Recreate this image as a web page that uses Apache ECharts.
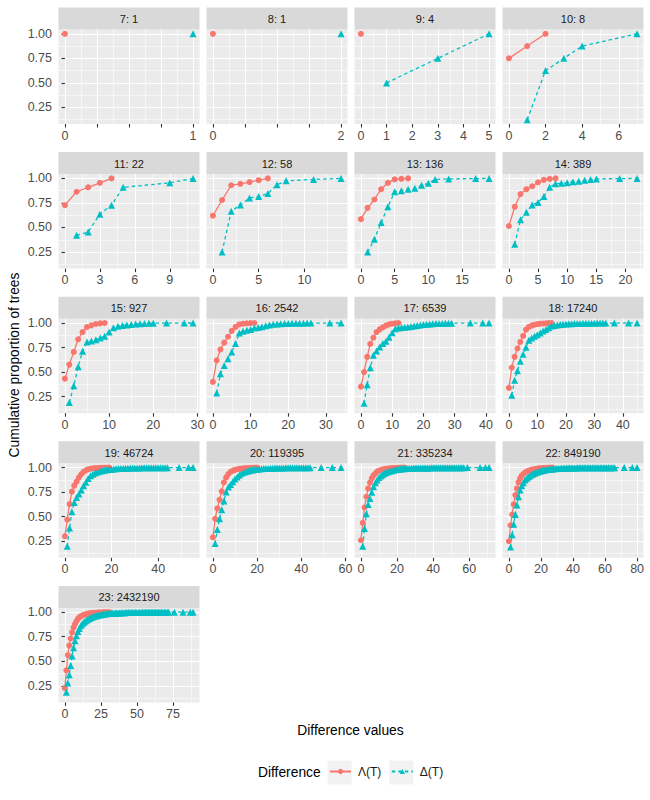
<!DOCTYPE html>
<html>
<head>
<meta charset="utf-8">
<script src="https://cdn.jsdelivr.net/npm/echarts@6/dist/echarts.min.js"></script>
<style>
html, body { margin: 0; padding: 0; background: #fff; }
#chart { width: 650px; height: 800px; }
</style>
</head>
<body>
<div id="chart"></div>
<script>
// facet titles: tips: number of trees
var panelNames = ['7: 1', '8: 1', '9: 4', '10: 8', '11: 22', '12: 58', '13: 136', '14: 389',
  '15: 927', '16: 2542', '17: 6539', '18: 17240', '19: 46724', '20: 119395', '21: 335234',
  '22: 849190', '23: 2432190'];

// [difference value, cumulative proportion]
var lam7 = [[0, 1]];
var del7 = [[1, 1]];
var lam8 = [[0, 1]];
var del8 = [[2, 1]];
var lam9 = [[0, 1]];
var del9 = [[1, 0.5], [3, 0.75], [5, 1]];
var lam10 = [[0, 0.75], [1, 0.875], [2, 1]];
var del10 = [[1, 0.125], [2, 0.625], [3, 0.75], [4, 0.875], [7, 1]];
var lam11 = [[0, 0.727], [1, 0.864], [2, 0.909], [3, 0.955], [4, 1]];
var del11 = [[1, 0.42], [2, 0.455], [3, 0.636], [4, 0.727], [5, 0.909], [9, 0.955], [11, 1]];
var lam12 = [[0, 0.62], [1, 0.78], [2, 0.93], [3, 0.945], [4, 0.963], [5, 0.982], [6, 1]];
var del12 = [[1, 0.25], [2, 0.665], [3, 0.73], [4, 0.8], [5, 0.815], [6, 0.845], [7, 0.935], [8, 0.975], [11, 0.99], [14, 1]];
var lam13 = [[0, 0.585], [1, 0.7], [2, 0.785], [3, 0.89], [4, 0.955], [5, 0.99], [6, 0.996], [7, 1]];
var del13 = [[1, 0.25], [2, 0.38], [3, 0.55], [4, 0.71], [5, 0.865], [6, 0.875], [7, 0.89], [8, 0.9], [9, 0.93],
  [10, 0.95], [11, 0.99], [13, 0.995], [17, 0.998], [19, 1]];
var lam14 = [[0, 0.515], [1, 0.71], [2, 0.84], [3, 0.89], [4, 0.92], [5, 0.96], [6, 0.985], [7, 0.995], [8, 1]];
var del14 = [[1, 0.33], [2, 0.58], [3, 0.655], [4, 0.73], [5, 0.755], [6, 0.815], [7, 0.91], [8, 0.945], [9, 0.95],
  [10, 0.955], [11, 0.965], [12, 0.97], [13, 0.98], [14, 0.99], [15, 0.995], [19, 0.998], [22, 1]];
var lam15 = [[0, 0.433], [1, 0.576], [2, 0.705], [3, 0.834], [4, 0.908], [5, 0.959], [6, 0.976], [7, 0.99], [8, 0.996], [9, 1]];
var del15 = [[1, 0.19], [2, 0.362], [3, 0.555], [4, 0.712], [5, 0.807], [6, 0.817], [7, 0.83], [8, 0.847], [9, 0.864],
  [10, 0.908], [11, 0.952], [12, 0.966], [13, 0.975], [14, 0.98], [15, 0.985], [16, 0.99], [17, 0.992], [18, 0.995],
  [19, 0.997], [20, 0.998], [23, 0.999], [27, 0.9995], [29, 1]];
var lam16 = [[0, 0.4], [1, 0.62], [2, 0.73], [3, 0.8], [4, 0.86], [5, 0.92], [6, 0.96], [7, 0.985], [8, 0.993],
  [9, 0.997], [10, 0.999], [11, 1]];
var del16 = [[1, 0.286], [2, 0.482], [3, 0.566], [4, 0.637], [5, 0.705], [6, 0.79], [7, 0.898], [8, 0.915], [9, 0.925],
  [10, 0.935], [11, 0.949], [12, 0.953], [13, 0.962], [14, 0.972], [15, 0.98], [16, 0.987], [17, 0.99], [18, 0.993],
  [19, 0.995], [20, 0.996], [21, 0.997], [22, 0.997], [23, 0.998], [24, 0.998], [25, 0.999], [26, 0.999], [31, 0.9995], [34, 1]];
var lam17 = [[0, 0.352], [1, 0.5], [2, 0.655], [3, 0.787], [4, 0.85], [5, 0.908], [6, 0.935], [7, 0.956], [8, 0.973],
  [9, 0.986], [10, 0.993], [11, 0.997], [12, 1]];
var del17 = [[1, 0.182], [2, 0.372], [3, 0.545], [4, 0.671], [5, 0.715], [6, 0.756], [7, 0.79], [8, 0.813], [9, 0.854],
  [10, 0.9], [11, 0.942], [12, 0.949], [13, 0.953], [14, 0.956], [15, 0.96], [16, 0.965], [17, 0.97], [18, 0.975],
  [19, 0.98], [20, 0.984], [21, 0.987], [22, 0.99], [23, 0.992], [24, 0.994], [25, 0.995], [26, 0.996], [27, 0.997],
  [28, 0.998], [29, 0.998], [35, 0.999], [39, 0.9995], [41, 1]];
var lam18 = [[0, 0.339], [1, 0.546], [2, 0.655], [3, 0.74], [4, 0.807], [5, 0.868], [6, 0.932], [7, 0.96], [8, 0.973],
  [9, 0.983], [10, 0.989], [11, 0.993], [12, 0.995], [13, 0.997], [14, 0.999], [15, 1]];
var del18 = [[1, 0.264], [2, 0.416], [3, 0.514], [4, 0.61], [5, 0.681], [6, 0.752], [7, 0.823], [8, 0.847], [9, 0.864],
  [10, 0.881], [11, 0.898], [12, 0.918], [13, 0.935], [14, 0.952], [15, 0.969], [16, 0.975], [17, 0.98], [18, 0.984],
  [19, 0.987], [20, 0.99], [21, 0.992], [22, 0.993], [23, 0.994], [24, 0.995], [25, 0.996], [26, 0.997], [27, 0.997],
  [28, 0.998], [29, 0.998], [30, 0.998], [31, 0.999], [32, 0.999], [33, 0.999], [34, 0.999], [37, 0.9995], [42, 0.9998], [45, 1]];
var lam19 = [[0, 0.3], [1, 0.47], [2, 0.628], [3, 0.755], [4, 0.816], [5, 0.857], [6, 0.898], [7, 0.932], [8, 0.956],
  [9, 0.973], [10, 0.982], [11, 0.988], [12, 0.992], [13, 0.995], [14, 0.996], [15, 0.997], [16, 0.998], [17, 0.999],
  [18, 0.999], [19, 1]];
var del19 = [[1, 0.198], [2, 0.386], [3, 0.55], [4, 0.645], [5, 0.696], [6, 0.73], [7, 0.771], [8, 0.816], [9, 0.85],
  [10, 0.89], [11, 0.918], [12, 0.932], [13, 0.945], [14, 0.956], [15, 0.963], [16, 0.968], [17, 0.973], [18, 0.977],
  [19, 0.98], [20, 0.983], [21, 0.986], [22, 0.988], [23, 0.99], [24, 0.991], [25, 0.992], [26, 0.993], [27, 0.994],
  [28, 0.995], [29, 0.996], [30, 0.996], [31, 0.997], [32, 0.997], [33, 0.998], [34, 0.998], [35, 0.998], [36, 0.999],
  [37, 0.999], [38, 0.999], [39, 0.999], [40, 0.999], [41, 0.9995], [42, 0.9995], [43, 0.9995], [44, 0.9995],
  [49, 0.9998], [53, 0.9999], [55, 1]];
var lam20 = [[0, 0.29], [1, 0.478], [2, 0.584], [3, 0.672], [4, 0.758], [5, 0.85], [6, 0.9], [7, 0.935], [8, 0.956],
  [9, 0.969], [10, 0.977], [11, 0.983], [12, 0.987], [13, 0.99], [14, 0.993], [15, 0.995], [16, 0.996], [17, 0.997],
  [18, 0.998], [19, 0.999], [20, 1]];
var del20 = [[1, 0.226], [2, 0.369], [3, 0.478], [4, 0.57], [5, 0.659], [6, 0.751], [7, 0.802], [8, 0.829], [9, 0.857],
  [10, 0.884], [11, 0.904], [12, 0.925], [13, 0.942], [14, 0.952], [15, 0.96], [16, 0.966], [17, 0.972], [18, 0.976],
  [19, 0.98], [20, 0.983], [21, 0.986], [22, 0.988], [23, 0.99], [24, 0.991], [25, 0.992], [26, 0.993], [27, 0.994],
  [28, 0.995], [29, 0.996], [30, 0.996], [31, 0.997], [32, 0.997], [33, 0.998], [34, 0.998], [35, 0.998], [36, 0.999],
  [37, 0.999], [38, 0.999], [39, 0.999], [40, 0.999], [41, 0.9995], [42, 0.9995], [43, 0.9995], [44, 0.9995],
  [49, 0.9998], [54, 0.9999], [58, 1]];
var lam21 = [[0, 0.26], [1, 0.437], [2, 0.594], [3, 0.703], [4, 0.788], [5, 0.846], [6, 0.89], [7, 0.92], [8, 0.94],
  [9, 0.959], [10, 0.968], [11, 0.975], [12, 0.98], [13, 0.985], [14, 0.988], [15, 0.99], [16, 0.992], [17, 0.994],
  [18, 0.995], [19, 0.996], [20, 0.997], [21, 0.998], [22, 0.999], [23, 0.999], [24, 1]];
var del21 = [[1, 0.198], [2, 0.379], [3, 0.529], [4, 0.625], [5, 0.686], [6, 0.748], [7, 0.806], [8, 0.846], [9, 0.874],
  [10, 0.898], [11, 0.915], [12, 0.928], [13, 0.94], [14, 0.95], [15, 0.957], [16, 0.963], [17, 0.968], [18, 0.973],
  [19, 0.977], [20, 0.98], [21, 0.983], [22, 0.985], [23, 0.987], [24, 0.989], [25, 0.99], [26, 0.991], [27, 0.992],
  [28, 0.993], [29, 0.994], [30, 0.995], [31, 0.995], [32, 0.996], [33, 0.996], [34, 0.996], [35, 0.997], [36, 0.997],
  [37, 0.997], [38, 0.997], [39, 0.998], [40, 0.998], [41, 0.998], [42, 0.998], [43, 0.998], [44, 0.999], [45, 0.999],
  [46, 0.999], [47, 0.999], [48, 0.999], [49, 0.999], [50, 0.999], [51, 0.9995], [52, 0.9995], [53, 0.9995],
  [54, 0.9995], [55, 0.9995], [56, 0.9995], [57, 0.9995], [59, 0.9998], [66, 0.9999], [69, 0.9999], [71, 1]];
var lam22 = [[0, 0.25], [1, 0.413], [2, 0.522], [3, 0.625], [4, 0.72], [5, 0.788], [6, 0.85], [7, 0.89], [8, 0.918],
  [9, 0.935], [10, 0.949], [11, 0.958], [12, 0.966], [13, 0.972], [14, 0.977], [15, 0.981], [16, 0.985], [17, 0.988],
  [18, 0.99], [19, 0.992], [20, 0.994], [21, 0.995], [22, 0.996], [23, 0.997], [24, 0.998], [25, 0.999], [26, 0.999], [27, 1]];
var del22 = [[1, 0.19], [2, 0.317], [3, 0.423], [4, 0.522], [5, 0.618], [6, 0.703], [7, 0.771], [8, 0.816], [9, 0.846],
  [10, 0.874], [11, 0.89], [12, 0.903], [13, 0.915], [14, 0.926], [15, 0.935], [16, 0.943], [17, 0.95], [18, 0.956],
  [19, 0.961], [20, 0.966], [21, 0.97], [22, 0.974], [23, 0.977], [24, 0.98], [25, 0.982], [26, 0.984], [27, 0.986],
  [28, 0.988], [29, 0.989], [30, 0.99], [31, 0.991], [32, 0.992], [33, 0.993], [34, 0.994], [35, 0.994], [36, 0.995],
  [37, 0.995], [38, 0.996], [39, 0.996], [40, 0.997], [41, 0.997], [42, 0.997], [43, 0.998], [44, 0.998], [45, 0.998],
  [46, 0.998], [47, 0.999], [48, 0.999], [49, 0.999], [50, 0.999], [51, 0.999], [52, 0.999], [53, 0.999], [54, 0.999],
  [55, 0.9995], [56, 0.9995], [57, 0.9995], [58, 0.9995], [59, 0.9995], [60, 0.9995], [61, 0.9995], [62, 0.9995],
  [63, 0.9995], [64, 0.9995], [65, 0.9995], [66, 0.9995], [72, 0.9998], [77, 0.9999], [80, 1]];
var lam23 = [[0, 0.226], [1, 0.408], [2, 0.563], [3, 0.66], [4, 0.732], [5, 0.794], [6, 0.845], [7, 0.88], [8, 0.907],
  [9, 0.931], [10, 0.948], [11, 0.958], [12, 0.966], [13, 0.972], [14, 0.977], [15, 0.981], [16, 0.985], [17, 0.988],
  [18, 0.99], [19, 0.992], [20, 0.993], [21, 0.994], [22, 0.995], [23, 0.996], [24, 0.997], [25, 0.997], [26, 0.998],
  [27, 0.998], [28, 0.999], [29, 0.999], [30, 0.999], [31, 1]];
var del23 = [[1, 0.185], [2, 0.278], [3, 0.364], [4, 0.456], [5, 0.553], [6, 0.639], [7, 0.708], [8, 0.76], [9, 0.804],
  [10, 0.835], [11, 0.862], [12, 0.88], [13, 0.895], [14, 0.907], [15, 0.918], [16, 0.928], [17, 0.936], [18, 0.943],
  [19, 0.949], [20, 0.955], [21, 0.96], [22, 0.964], [23, 0.968], [24, 0.972], [25, 0.975], [26, 0.978], [27, 0.98],
  [28, 0.982], [29, 0.984], [30, 0.986], [31, 0.987], [32, 0.988], [33, 0.989], [34, 0.99], [35, 0.991], [36, 0.992],
  [37, 0.993], [38, 0.993], [39, 0.994], [40, 0.994], [41, 0.995], [42, 0.995], [43, 0.996], [44, 0.996], [45, 0.996],
  [46, 0.997], [47, 0.997], [48, 0.997], [49, 0.998], [50, 0.998], [51, 0.998], [52, 0.998], [53, 0.998], [54, 0.999],
  [55, 0.999], [56, 0.999], [57, 0.999], [58, 0.999], [59, 0.999], [60, 0.999], [61, 0.999], [62, 0.999], [63, 0.9995],
  [64, 0.9995], [65, 0.9995], [66, 0.9995], [67, 0.9995], [68, 0.9995], [69, 0.9995], [70, 0.9995], [71, 0.9995],
  [72, 0.9995], [76, 0.9998], [82, 0.9999], [87, 0.9999], [89, 1]];

var lambdaData = [lam7, lam8, lam9, lam10, lam11, lam12, lam13, lam14, lam15, lam16, lam17, lam18, lam19, lam20, lam21, lam22, lam23];
var deltaData = [del7, del8, del9, del10, del11, del12, del13, del14, del15, del16, del17, del18, del19, del20, del21, del22, del23];

// tick positions per panel, and the ones that carry a label
var xBreaks = [[0, 0.25, 0.5, 0.75, 1], [0, 0.5, 1, 1.5, 2], [0, 1, 2, 3, 4, 5], [0, 2, 4, 6], [0, 3, 6, 9], [0, 5, 10],
  [0, 5, 10, 15], [0, 5, 10, 15, 20], [0, 10, 20, 30], [0, 10, 20, 30], [0, 10, 20, 30, 40], [0, 10, 20, 30, 40],
  [0, 20, 40], [0, 20, 40, 60], [0, 20, 40, 60], [0, 20, 40, 60, 80], [0, 25, 50, 75]];
var xLabelled = [[0, 1], [0, 2], [0, 1, 2, 3, 4, 5], [0, 2, 4, 6], [0, 3, 6, 9], [0, 5, 10],
  [0, 5, 10, 15], [0, 5, 10, 15, 20], [0, 10, 20, 30], [0, 10, 20, 30], [0, 10, 20, 30, 40], [0, 10, 20, 30, 40],
  [0, 20, 40], [0, 20, 40, 60], [0, 20, 40, 60], [0, 20, 40, 60, 80], [0, 25, 50, 75]];
var yBreaks = [0.25, 0.5, 0.75, 1];
var yMinor = [0.125, 0.375, 0.625, 0.875];

var seriesNames = ['\u039b(T)', '\u0394(T)'];
var colors = ['#F8766D', '#00BFC4'];

var fontFam = '"Liberation Sans", Arial, Helvetica, sans-serif';
var colLeft = 58.5, colStep = 148, panelW = 141;
var rowTop = 7.5, rowStep = 144.6, stripH = 22, panelH = 94.5;

// ggplot style 5% expansion of the data range
function expand(lo, hi) {
  var pad = (hi - lo) * 0.05;
  return [lo - pad, hi + pad];
}

function minorOf(b, lo, hi) {
  var step = b[1] - b[0], out = [];
  var cand = [b[0] - step / 2];
  for (var k = 0; k < b.length; k++) cand.push(b[k] + step / 2);
  cand.forEach(function (v) { if (v > lo && v < hi) out.push(v); });
  return out;
}

var allY = [];
lambdaData.concat(deltaData).forEach(function (s) { s.forEach(function (p) { allY.push(p[1]); }); });
var yRange = expand(Math.min.apply(null, allY), Math.max.apply(null, allY));

var grids = [], xAxes = [], yAxes = [], series = [], graphics = [];

panelNames.forEach(function (name, i) {
  var c = i % 4, r = Math.floor(i / 4);
  var left = colLeft + c * colStep;
  var top = rowTop + r * rowStep;

  var xs = [];
  lambdaData[i].concat(deltaData[i]).forEach(function (p) { xs.push(p[0]); });
  var xRange = expand(Math.min.apply(null, xs), Math.max.apply(null, xs));

  grids.push({
    left: left, top: top + stripH, width: panelW, height: panelH,
    show: true, backgroundColor: '#EBEBEB', borderWidth: 0
  });

  // strip
  graphics.push({
    type: 'rect', shape: { x: left, y: top, width: panelW, height: stripH },
    style: { fill: '#D9D9D9' }, silent: true
  });
  graphics.push({
    type: 'text', x: left + panelW / 2, y: top + stripH / 2 + 0.5, silent: true,
    style: { text: name, fill: '#1A1A1A', font: '11px ' + fontFam, align: 'center', verticalAlign: 'middle' }
  });

  xAxes.push({
    type: 'value', gridIndex: i, min: xRange[0], max: xRange[1], position: 'bottom',
    axisLine: { show: false },
    axisTick: { show: true, length: 3.5, customValues: xBreaks[i], lineStyle: { color: '#333333', width: 1.1 } },
    axisLabel: {
      show: true, customValues: xLabelled[i], margin: 5, color: '#4D4D4D', fontSize: 12.5, fontFamily: fontFam,
      formatter: function (v) { return String(v); }
    },
    splitLine: { show: true, lineStyle: { color: '#FFFFFF', width: 1.1 } }
  });
  xAxes.push({
    type: 'value', gridIndex: i, min: xRange[0], max: xRange[1], position: 'bottom',
    axisLine: { show: false },
    axisTick: { show: false, customValues: minorOf(xBreaks[i], xRange[0], xRange[1]) },
    axisLabel: { show: false },
    splitLine: { show: true, lineStyle: { color: '#FFFFFF', width: 0.55 } }
  });

  var firstCol = c === 0;
  yAxes.push({
    type: 'value', gridIndex: i, min: yRange[0], max: yRange[1], position: 'left',
    axisLine: { show: false },
    axisTick: { show: firstCol, length: 3.5, customValues: yBreaks, lineStyle: { color: '#333333', width: 1.1 } },
    axisLabel: {
      show: firstCol, customValues: yBreaks, margin: 6.5, color: '#4D4D4D', fontSize: 12.5, fontFamily: fontFam,
      formatter: function (v) { return v.toFixed(2); }
    },
    splitLine: { show: true, lineStyle: { color: '#FFFFFF', width: 1.1 } }
  });
  yAxes.push({
    type: 'value', gridIndex: i, min: yRange[0], max: yRange[1], position: 'left',
    axisLine: { show: false },
    axisTick: { show: false, customValues: yMinor },
    axisLabel: { show: false },
    splitLine: { show: true, lineStyle: { color: '#FFFFFF', width: 0.55 } }
  });

  series.push({
    type: 'line', name: seriesNames[0], xAxisIndex: 2 * i, yAxisIndex: 2 * i,
    data: lambdaData[i], symbol: 'circle', symbolSize: 6, showSymbol: true,
    itemStyle: { color: colors[0] }, lineStyle: { color: colors[0], width: 1.3 },
    emphasis: { disabled: true }, silent: true
  });
  series.push({
    type: 'line', name: seriesNames[1], xAxisIndex: 2 * i, yAxisIndex: 2 * i,
    data: deltaData[i], symbol: 'triangle', symbolSize: 7, showSymbol: true,
    itemStyle: { color: colors[1] }, lineStyle: { color: colors[1], width: 1.3, type: [3.5, 3] },
    emphasis: { disabled: true }, silent: true
  });
});

// axis titles
graphics.push({
  type: 'text', x: 350.5, y: 730, silent: true,
  style: { text: 'Difference values', fill: '#000000', font: '13.8px ' + fontFam, align: 'center', verticalAlign: 'middle' }
});
graphics.push({
  type: 'text', x: 14, y: 365, rotation: Math.PI / 2, silent: true,
  style: { text: 'Cumulative proportion of trees', fill: '#000000', font: '13.8px ' + fontFam, align: 'center', verticalAlign: 'middle' }
});
// legend title and key backgrounds
graphics.push({
  type: 'text', x: 258, y: 772.5, silent: true,
  style: { text: 'Difference', fill: '#000000', font: '13.8px ' + fontFam, align: 'left', verticalAlign: 'middle' }
});
graphics.push({ type: 'rect', shape: { x: 327.7, y: 760.5, width: 24, height: 24 }, style: { fill: '#F2F2F2' }, silent: true });
graphics.push({ type: 'rect', shape: { x: 389.3, y: 760.5, width: 24, height: 24 }, style: { fill: '#F2F2F2' }, silent: true });

var legendCommon = {
  orient: 'horizontal', top: 765.5, padding: 0, itemWidth: 21, itemHeight: 6.5, itemGap: 0,
  textStyle: { color: '#1A1A1A', fontSize: 12, fontFamily: fontFam, padding: [0, 0, 0, 2] },
  selectedMode: false
};

var chart = echarts.init(document.getElementById('chart'), null, { renderer: 'svg' });
chart.setOption({
  backgroundColor: '#FFFFFF',
  animation: false,
  textStyle: { fontFamily: fontFam },
  grid: grids,
  xAxis: xAxes,
  yAxis: yAxes,
  legend: [
    Object.assign({ data: [seriesNames[0]], left: 329 }, legendCommon),
    Object.assign({ data: [seriesNames[1]], left: 390.8 }, legendCommon)
  ],
  graphic: graphics,
  series: series
});
</script>
</body>
</html>
